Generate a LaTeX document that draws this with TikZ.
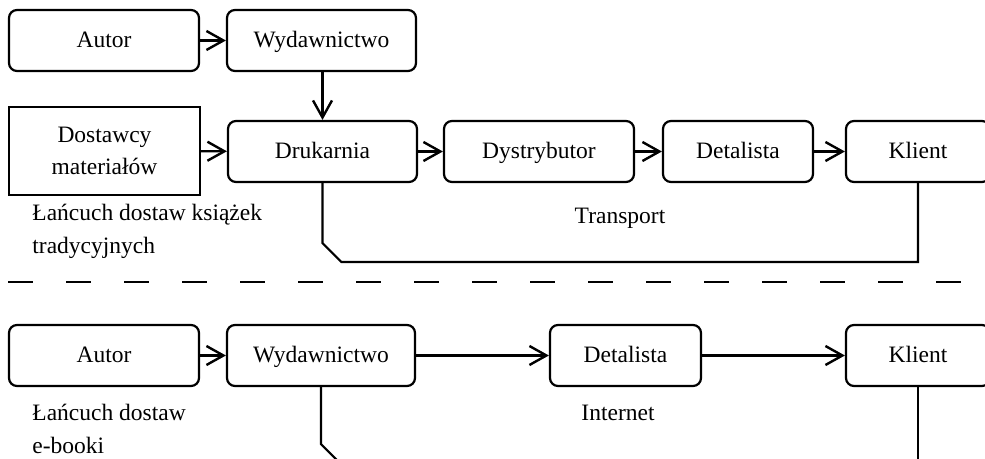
\documentclass[tikz,border=0pt]{standalone}
\usepackage{fontspec}
\setmainfont{Liberation Serif}
\usetikzlibrary{arrows.meta}

\tikzset{
  box/.style={draw, rounded corners=4pt, line width=1.1pt, minimum height=30.5pt, inner sep=0pt, text height=8pt, text depth=1pt},
  sqbox/.style={draw, line width=1.1pt, minimum height=44pt, inner sep=0pt, align=center},
  link/.style={line width=1.1pt},
  flow/.style={link, -{Straight Barb[length=8.5pt, width=9.5pt, line width=1.2pt]}},
  caption/.style={anchor=west, align=left, inner sep=0pt}
}

\begin{document}
\begin{tikzpicture}[x=0.5pt, y=-0.5pt, font=\fontsize{11.75}{16.25}\selectfont]
	\useasboundingbox (0,0) rectangle (985,459);
	% lancuch tradycyjny
	\node[box, minimum width=95pt] (autorA) at (104,40.5) {Autor};
	\node[box, minimum width=94.5pt] (wydA) at (321.5,40.5) {Wydawnictwo};
	\node[sqbox, minimum width=95.5pt] (dost) at (104.5,151) {Dostawcy\\materiałów};
	\node[box, minimum width=94.5pt] (druk) at (322.5,151.5) {Drukarnia};
	\node[box, minimum width=95pt] (dystr) at (539,151.5) {Dystrybutor};
	\node[box, minimum width=75pt] (detA) at (738,151.5) {Detalista};
	\node[box, minimum width=72pt] (klientA) at (918,151.5) {Klient};
	\draw[flow] (autorA) -- (wydA);
	\draw[flow] (wydA.south -| druk) -- (druk);
	\draw[flow] (dost) -- (druk);
	\draw[flow] (druk) -- (dystr);
	\draw[flow] (dystr) -- (detA);
	\draw[flow] (detA) -- (klientA);
	\draw[link] (druk.south) -- ++(0,60) -- ++(19,19) -| (klientA.south);
	\node (transport) at (620,218) {Transport};
	\node[caption] (opisA) at (32,231.5) {Łańcuch dostaw książek\\tradycyjnych};
	% linia podzialu
	\draw[line width=0.8pt, dash pattern=on 12.5pt off 16.5pt] (8,282) -- (985,282);
	% lancuch e-booki
	\node[box, minimum width=95pt] (autorB) at (104,355.5) {Autor};
	\node[box, minimum width=94pt] (wydB) at (321,355.5) {Wydawnictwo};
	\node[box, minimum width=75.5pt] (detB) at (625.5,355.5) {Detalista};
	\node[box, minimum width=72pt] (klientB) at (918,355.5) {Klient};
	\draw[flow] (autorB) -- (wydB);
	\draw[flow] (wydB) -- (detB);
	\draw[flow] (detB) -- (klientB);
	\draw[link] (wydB.south) -- ++(0,57) -- ++(25,25);
	\draw[link] (klientB.south) -- ++(0,80);
	\node (internet) at (618,413) {Internet};
	\node[caption] (opisB) at (32,429) {Łańcuch dostaw\\e-booki};
\end{tikzpicture}
\end{document}
